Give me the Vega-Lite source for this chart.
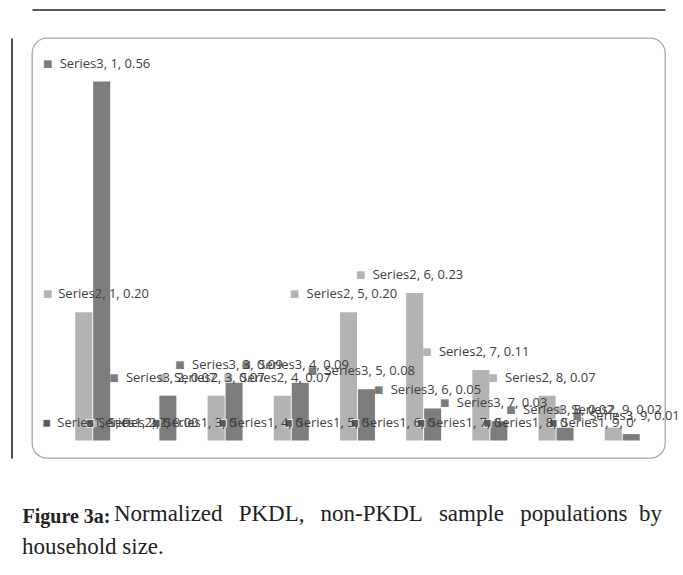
{
  "$schema": "https://vega.github.io/schema/vega-lite/v6.json",
  "width": 633,
  "height": 420,
  "autosize": {"type": "none"},
  "padding": {"left": 32, "top": 38, "right": 18, "bottom": 117},
  "background": "white",
  "config": {
    "view": {"stroke": "#a8a8a8", "strokeWidth": 1.3, "cornerRadius": 15},
    "axisY": {"domain": true, "domainColor": "#222222", "domainWidth": 1.6, "labels": false, "ticks": false, "grid": false, "offset": 20.5},
    "text": {"font": "Open Sans", "fontSize": 13}
  },
  "title": {
    "text": ["\u200b\u00a0\u00a0\u00a0\u00a0\u00a0\u00a0\u00a0\u00a0\u00a0\u00a0\u00a0\u00a0\u00a0\u00a0\u00a0\u00a0Normalized\u00a0\u00a0\u2009PKDL,\u00a0\u00a0\u2009non-PKDL\u00a0\u00a0\u2009sample\u00a0\u00a0\u2009populations\u00a0\u00a0by", "household size."],
    "orient": "bottom",
    "anchor": "start",
    "frame": "group",
    "font": "Liberation Serif",
    "fontSize": 23,
    "fontWeight": "normal",
    "color": "#222222",
    "lineHeight": 33,
    "baseline": "alphabetic",
    "offset": -5,
    "dx": -10
  },
  "data": {
    "values": [
      {"cat": 1, "series": "Series1", "value": 0, "label": "Series1, 1, 0"},
      {"cat": 2, "series": "Series1", "value": 0, "label": "Series1, 2, 0"},
      {"cat": 3, "series": "Series1", "value": 0, "label": "Series1, 3, 0"},
      {"cat": 4, "series": "Series1", "value": 0, "label": "Series1, 4, 0"},
      {"cat": 5, "series": "Series1", "value": 0, "label": "Series1, 5, 0"},
      {"cat": 6, "series": "Series1", "value": 0, "label": "Series1, 6, 0"},
      {"cat": 7, "series": "Series1", "value": 0, "label": "Series1, 7, 0"},
      {"cat": 8, "series": "Series1", "value": 0, "label": "Series1, 8, 0"},
      {"cat": 9, "series": "Series1", "value": 0, "label": "Series1, 9, 0"},
      {"cat": 1, "series": "Series2", "value": 0.20, "label": "Series2, 1, 0.20"},
      {"cat": 2, "series": "Series2", "value": 0.00, "label": "Series2, 2, 0.00"},
      {"cat": 3, "series": "Series2", "value": 0.07, "label": "Series2, 3, 0.07"},
      {"cat": 4, "series": "Series2", "value": 0.07, "label": "Series2, 4, 0.07"},
      {"cat": 5, "series": "Series2", "value": 0.20, "label": "Series2, 5, 0.20"},
      {"cat": 6, "series": "Series2", "value": 0.23, "label": "Series2, 6, 0.23"},
      {"cat": 7, "series": "Series2", "value": 0.11, "label": "Series2, 7, 0.11"},
      {"cat": 8, "series": "Series2", "value": 0.07, "label": "Series2, 8, 0.07"},
      {"cat": 9, "series": "Series2", "value": 0.02, "label": "Series2, 9, 0.02"},
      {"cat": 1, "series": "Series3", "value": 0.56, "label": "Series3, 1, 0.56"},
      {"cat": 2, "series": "Series3", "value": 0.07, "label": "Series3, 2, 0.07"},
      {"cat": 3, "series": "Series3", "value": 0.09, "label": "Series3, 3, 0.09"},
      {"cat": 4, "series": "Series3", "value": 0.09, "label": "Series3, 4, 0.09"},
      {"cat": 5, "series": "Series3", "value": 0.08, "label": "Series3, 5, 0.08"},
      {"cat": 6, "series": "Series3", "value": 0.05, "label": "Series3, 6, 0.05"},
      {"cat": 7, "series": "Series3", "value": 0.03, "label": "Series3, 7, 0.03"},
      {"cat": 8, "series": "Series3", "value": 0.02, "label": "Series3, 8, 0.02"},
      {"cat": 9, "series": "Series3", "value": 0.01, "label": "Series3, 9, 0.01"}
    ]
  },
  "encoding": {
    "x": {"field": "cat", "type": "ordinal", "scale": {"paddingInner": 0.2, "paddingOuter": 0.3816, "align": 0.5}},
    "xOffset": {"field": "series", "type": "nominal", "scale": {"domain": ["Series1", "Series2", "Series3"], "paddingInner": 0.05}},
    "y": {"field": "value", "type": "quantitative", "title": null, "scale": {"domain": [-0.0273, 0.628], "nice": false, "zero": false}},
    "color": {"field": "series", "type": "nominal", "legend": null, "scale": {"domain": ["Series1", "Series2", "Series3"], "range": ["#5c5c5c", "#b3b3b3", "#7d7d7d"]}}
  },
  "resolve": {"axis": {"x": "independent"}},
  "layer": [
    {
      "mark": {"type": "bar"},
      "encoding": {
        "y2": {"datum": 0},
        "x": {"field": "cat", "type": "ordinal", "axis": {"orient": "bottom", "domain": false, "labels": false, "ticks": false, "grid": false, "title": "Figure 3a:", "titleFont": "Liberation Serif", "titleFontSize": 20, "titleFontWeight": "bold", "titleColor": "#222222", "titleX": -10, "titleY": 64, "titleAnchor": "start", "titleAlign": "left", "titleBaseline": "alphabetic", "titleAngle": 0}}
      }
    },
    {
      "transform": [{"filter": "datum.series != 'Series1' && !(datum.cat == 1 && datum.series == 'Series2')"}],
      "mark": {"type": "text", "text": "■", "font": "DejaVu Sans", "fontSize": 10, "dx": -54, "dy": -18, "baseline": "middle", "align": "center"},
      "encoding": {
        "x": {"field": "cat", "type": "ordinal", "axis": {"orient": "top", "offset": 28.5, "domain": true, "domainColor": "#222222", "domainWidth": 1.6, "labels": false, "ticks": false, "grid": false, "title": null}}
      }
    },
    {
      "transform": [{"filter": "datum.series != 'Series1' && !(datum.cat == 1 && datum.series == 'Series2')"}],
      "mark": {"type": "text", "dx": -42, "dy": -18, "baseline": "middle", "align": "left"},
      "encoding": {
        "x": {"field": "cat", "type": "ordinal", "axis": null},
        "text": {"field": "label"},
        "color": {"value": "#404040"}
      }
    },
    {
      "transform": [{"filter": "datum.series == 'Series1' && datum.cat != 1"}],
      "mark": {"type": "text", "text": "■", "font": "DejaVu Sans", "fontSize": 10, "dx": -42, "dy": -18, "baseline": "middle", "align": "center", "stroke": "white", "strokeWidth": 0.8},
      "encoding": {"x": {"field": "cat", "type": "ordinal", "axis": null}}
    },
    {
      "transform": [{"filter": "datum.series == 'Series1' && datum.cat != 1"}],
      "mark": {"type": "text", "dx": -34, "dy": -18, "baseline": "middle", "align": "left"},
      "encoding": {
        "x": {"field": "cat", "type": "ordinal", "axis": null},
        "text": {"field": "label"},
        "color": {"value": "#404040"}
      }
    },
    {
      "transform": [{"filter": "datum.series == 'Series1' && datum.cat == 1"}],
      "mark": {"type": "text", "text": "■", "font": "DejaVu Sans", "fontSize": 10, "dx": -19, "dy": -18, "baseline": "middle", "align": "center", "stroke": "white", "strokeWidth": 0.8},
      "encoding": {"x": {"field": "cat", "type": "ordinal", "axis": null}}
    },
    {
      "transform": [{"filter": "datum.series == 'Series1' && datum.cat == 1"}],
      "mark": {"type": "text", "dx": -8.5, "dy": -18, "baseline": "middle", "align": "left"},
      "encoding": {
        "x": {"field": "cat", "type": "ordinal", "axis": null},
        "text": {"field": "label"},
        "color": {"value": "#404040"}
      }
    },
    {
      "transform": [{"filter": "datum.series == 'Series2' && datum.cat == 1"}],
      "mark": {"type": "text", "text": "■", "font": "DejaVu Sans", "fontSize": 10, "dx": -36, "dy": -18, "baseline": "middle", "align": "center"},
      "encoding": {"x": {"field": "cat", "type": "ordinal", "axis": null}}
    },
    {
      "transform": [{"filter": "datum.series == 'Series2' && datum.cat == 1"}],
      "mark": {"type": "text", "dx": -25.5, "dy": -18, "baseline": "middle", "align": "left"},
      "encoding": {
        "x": {"field": "cat", "type": "ordinal", "axis": null},
        "text": {"field": "label"},
        "color": {"value": "#404040"}
      }
    }
  ]
}
